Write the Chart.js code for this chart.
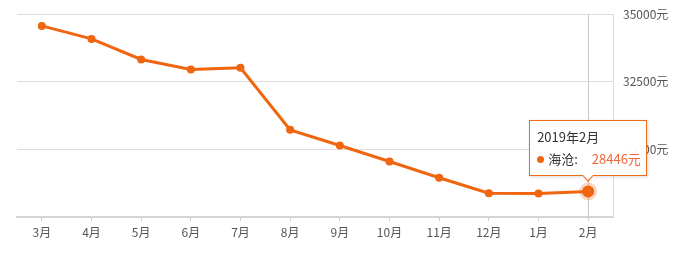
<!DOCTYPE html>
<html>
<head>
<meta charset="utf-8">
<script src="https://cdn.jsdelivr.net/npm/chart.js@4/dist/chart.umd.min.js"></script>
<style>
  html, body { margin: 0; padding: 0; background: #fff; }
  #wrap { position: relative; width: 681px; height: 253px; }
  #tip {
    position: absolute; display: none; box-sizing: border-box;
    width: 118px; height: 56px; padding: 5px 7px;
    background: rgba(255,255,255,0.96); border: 1px solid #f06a1a;
    box-shadow: 1px 1px 3px rgba(0,0,0,0.15);
    font-family: "Noto Sans CJK SC", sans-serif; font-size: 13px; color: #333;
  }
  #tip .t { line-height: 22px; }
  #tip .b { line-height: 22px; white-space: nowrap; }
  #tip .dot { display: inline-block; width: 7px; height: 7px; border-radius: 50%; background: #f0650f; margin-right: 4px; vertical-align: 1px; }
  #tip .v { color: #f0663a; margin-left: 14px; }
  #tip:after, #tip:before {
    content: ""; position: absolute; left: 50%; width: 0; height: 0;
    border-left: 6px solid transparent; border-right: 6px solid transparent;
  }
  #tip:before { bottom: -7px; margin-left: -6px; border-top: 7px solid #f06a1a; }
  #tip:after { bottom: -5px; margin-left: -6px; border-top: 6px solid #fff; }
</style>
</head>
<body>
<div id="wrap">
  <canvas id="c" width="681" height="253"></canvas>
  <div id="tip"></div>
</div>
<script>
// 月份和价格数据
const months = ['3月', '4月', '5月', '6月', '7月', '8月', '9月', '10月', '11月', '12月', '1月', '2月'];
const prices = [34560, 34080, 33320, 32950, 33010, 30720, 30140, 29550, 28950, 28380, 28370, 28446];
const tipTitles = ['2018年3月', '2018年4月', '2018年5月', '2018年6月', '2018年7月', '2018年8月',
  '2018年9月', '2018年10月', '2018年11月', '2018年12月', '2019年1月', '2019年2月'];
const seriesName = '海沧';
const yTicks = [27500, 30000, 32500, 35000];

const orange = '#f0650f';
const font = { family: '"Noto Sans CJK SC", sans-serif', size: 12 };

// 十字准线
const crossLine = {
  id: 'crossLine',
  beforeDatasetsDraw(chart) {
    const act = chart.getActiveElements();
    if (!act.length) return;
    const x = act[0].element.x;
    const { top, bottom } = chart.chartArea;
    const ctx = chart.ctx;
    ctx.save();
    ctx.strokeStyle = '#c8c8c8';
    ctx.lineWidth = 1;
    ctx.beginPath();
    ctx.moveTo(Math.round(x) + 0.5, top);
    ctx.lineTo(Math.round(x) + 0.5, bottom);
    ctx.stroke();
    ctx.restore();
  }
};

// HTML 提示框
function externalTip(context) {
  const el = document.getElementById('tip');
  const tt = context.tooltip;
  if (tt.opacity === 0 || !tt.dataPoints || !tt.dataPoints.length) { el.style.display = 'none'; return; }
  const dp = tt.dataPoints[0];
  el.innerHTML = '<div class="t">' + tipTitles[dp.dataIndex] + '</div>' +
    '<div class="b"><span class="dot"></span>' + seriesName + ':<span class="v">' + prices[dp.dataIndex] + '元</span></div>';
  el.style.display = 'block';
  el.style.left = (tt.caretX - 59) + 'px';
  el.style.top = (tt.caretY - 71) + 'px';
}

const ctx = document.getElementById('c').getContext('2d');
const chart = new Chart(ctx, {
  type: 'line',
  data: {
    labels: months,
    datasets: [{
      label: seriesName,
      data: prices,
      borderColor: orange,
      backgroundColor: orange,
      borderWidth: 3,
      pointRadius: 4,
      pointBorderWidth: 0,
      pointHoverRadius: 6,
      pointHoverBorderWidth: 6,
      pointHoverBorderColor: 'rgba(240,101,15,0.25)',
      pointHoverBackgroundColor: orange,
      tension: 0
    }]
  },
  options: {
    responsive: false,
    animation: false,
    events: [],
    layout: { padding: { left: 17, top: 14, right: 0, bottom: 0 } },
    plugins: {
      legend: { display: false },
      tooltip: { enabled: false, external: externalTip, mode: 'index', intersect: false }
    },
    scales: {
      x: {
        offset: true,
        grid: { display: true, offset: false, drawOnChartArea: false, drawTicks: true, tickLength: 4, color: '#cfcfcf' },
        border: { display: true, color: '#d4d4d4', width: 2 },
        ticks: { color: '#555', font: font, padding: 4, maxRotation: 0, autoSkip: false },
        afterFit(s) { s.height = 36; s.paddingLeft = 0; s.paddingRight = 0; }
      },
      y: {
        position: 'right',
        min: yTicks[0],
        max: yTicks[yTicks.length - 1],
        afterBuildTicks(s) { s.ticks = yTicks.map(v => ({ value: v })); },
        grid: { color: '#dcdcdc', drawTicks: false },
        border: { display: true, color: '#dcdcdc', width: 1 },
        ticks: {
          color: '#555', font: font, padding: 10,
          callback: v => v === yTicks[0] ? '' : v + '元'
        },
        afterFit(s) { s.width = 68; s.paddingTop = 0; s.paddingBottom = 0; }
      }
    }
  },
  plugins: [crossLine]
});

// 默认显示最后一个点的提示
const last = prices.length - 1;
chart.setActiveElements([{ datasetIndex: 0, index: last }]);
chart.tooltip.setActiveElements([{ datasetIndex: 0, index: last }], { x: 0, y: 0 });
chart.update();
</script>
</body>
</html>
